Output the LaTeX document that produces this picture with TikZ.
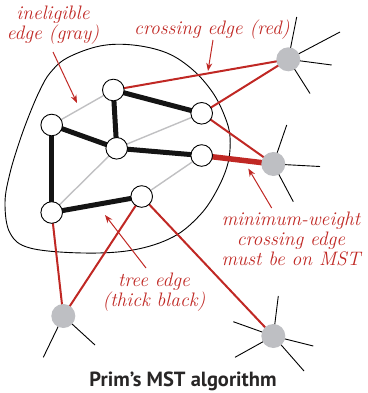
\documentclass[tikz,border=0pt]{standalone}
\usepackage{fontspec}
\newfontfamily\titlefont{PT Sans}
\usetikzlibrary{arrows.meta,backgrounds}
\definecolor{myred}{RGB}{192,40,36}
\definecolor{nodegray}{RGB}{190,191,195}
\definecolor{edgegray}{RGB}{192,192,194}
\definecolor{titlegray}{RGB}{40,38,38}
\tikzset{
  vtx/.style={circle,draw=black,line width=0.9pt,fill=white,minimum size=21.6pt,inner sep=0pt},
  gvtx/.style={circle,fill=nodegray,minimum size=24pt,inner sep=0pt},
  treeedge/.style={line width=5pt,black!92},
  grayedge/.style={line width=1.4pt,edgegray},
  crossedge/.style={line width=2pt,myred},
  minedge/.style={line width=5.5pt,myred},
  spoke/.style={line width=0.9pt,black},
  cut/.style={line width=0.9pt,black},
  lbl/.style={text=myred,font=\fontsize{19.5}{20}\selectfont\itshape,align=center,inner sep=0pt},
  ann/.style={myred,line width=1pt,-{Stealth[length=8pt,width=6pt,inset=2.5pt]}},
}
\begin{document}
\begin{tikzpicture}[x=1pt,y=-1pt]
\useasboundingbox (0,0) rectangle (367,393);
% tree vertices
\node[vtx] (A) at (113.3,90) {};
\node[vtx] (B) at (51.7,125) {};
\node[vtx] (C) at (116.7,148.3) {};
\node[vtx] (D) at (201.7,113.3) {};
\node[vtx] (E) at (201.7,155.5) {};
\node[vtx] (F) at (51.7,212.5) {};
\node[vtx] (G) at (141.7,196.5) {};
% outside vertices
\node[gvtx] (TR) at (288.3,59.3) {};
\node[gvtx] (MR) at (273.3,164) {};
\node[gvtx] (BL) at (63.3,316) {};
\node[gvtx] (BR) at (273.3,336) {};
% spoke ends
\coordinate (tr1) at (296.7,17);
\coordinate (tr2) at (340,32);
\coordinate (tr3) at (331.7,65);
\coordinate (tr4) at (310,93.5);
\coordinate (mr1) at (286.7,125);
\coordinate (mr2) at (320,166.5);
\coordinate (mr3) at (293.3,201.7);
\coordinate (bl1) at (43.3,357.3);
\coordinate (bl2) at (95,345);
\coordinate (br1) at (278.3,296);
\coordinate (br2) at (233.3,321.7);
\coordinate (br3) at (313.3,346);
\coordinate (br4) at (235,357.3);
\coordinate (br5) at (304,371);
\begin{scope}[on background layer]
  % cut
  \draw[cut] plot[smooth cycle,tension=0.6] coordinates {
    (133,45) (167,53) (193,70) (213,93) (225,117) (230,137) (228,163)
    (217,190) (200,215) (173,237) (133,250) (83,253) (30,248) (10,233)
    (5,203) (10,173) (20,140) (30,113) (40,90) (50,73) (67,58) (100,46)};
  % spokes
  \foreach \c in {tr1,tr2,tr3,tr4} \draw[spoke] (TR.center) -- (\c);
  \foreach \c in {mr1,mr2,mr3} \draw[spoke] (MR.center) -- (\c);
  \foreach \c in {bl1,bl2} \draw[spoke] (BL.center) -- (\c);
  \foreach \c in {br1,br2,br3,br4,br5} \draw[spoke] (BR.center) -- (\c);
  % ineligible edges
  \draw[grayedge] (A.center) -- (B.center);
  \draw[grayedge] (C.center) -- (D.center);
  \draw[grayedge] (C.center) -- (F.center);
  \draw[grayedge] (G.center) -- (E.center);
  % crossing edges
  \draw[crossedge] (A.center) -- (TR.center);
  \draw[crossedge] (D.center) -- (TR.center);
  \draw[crossedge] (D.center) -- (MR.center);
  \draw[crossedge] (F.center) -- (BL.center);
  \draw[crossedge] (G.center) -- (BL.center);
  \draw[crossedge] (G.center) -- (BR.center);
  \draw[minedge] (E.center) -- (MR.center);
  % tree edges
  \draw[treeedge] (A.center) -- (C.center);
  \draw[treeedge] (A.center) -- (D.center);
  \draw[treeedge] (B.center) -- (C.center);
  \draw[treeedge] (B.center) -- (F.center);
  \draw[treeedge] (C.center) -- (E.center);
  \draw[treeedge] (F.center) -- (G.center);
\end{scope}
% labels (anchor = baseline of the last line)
\node[lbl,anchor=base] (l1) at (53,39.5) {ineligible\\edge (gray)};
\node[lbl,anchor=base] (l2) at (212,35) {crossing edge (red)};
\node[lbl,anchor=base] (l3) at (291,265.5) {minimum-weight\\crossing edge\\must be on MST};
\node[lbl,anchor=base] (l4) at (154,306.5) {tree edge\\(thick black)};
\node[anchor=base,text=titlegray,inner sep=0pt,font=\titlefont\bfseries\fontsize{20.5}{22}\selectfont] (title) at (183,386) {Prim’s MST algorithm};
% annotation arrows
\coordinate (a1s) at (53,52);
\coordinate (a1e) at (77,103);
\coordinate (a2s) at (213,40);
\coordinate (a2e) at (208,71);
\coordinate (a3s) at (271.7,208);
\coordinate (a3e) at (248.3,168.5);
\coordinate (a4s) at (146,268);
\coordinate (a4e) at (105,215);
\draw[ann] (a1s) -- (a1e);
\draw[ann] (a2s) -- (a2e);
\draw[ann] (a3s) -- (a3e);
\draw[ann] (a4s) -- (a4e);
\end{tikzpicture}
\end{document}
